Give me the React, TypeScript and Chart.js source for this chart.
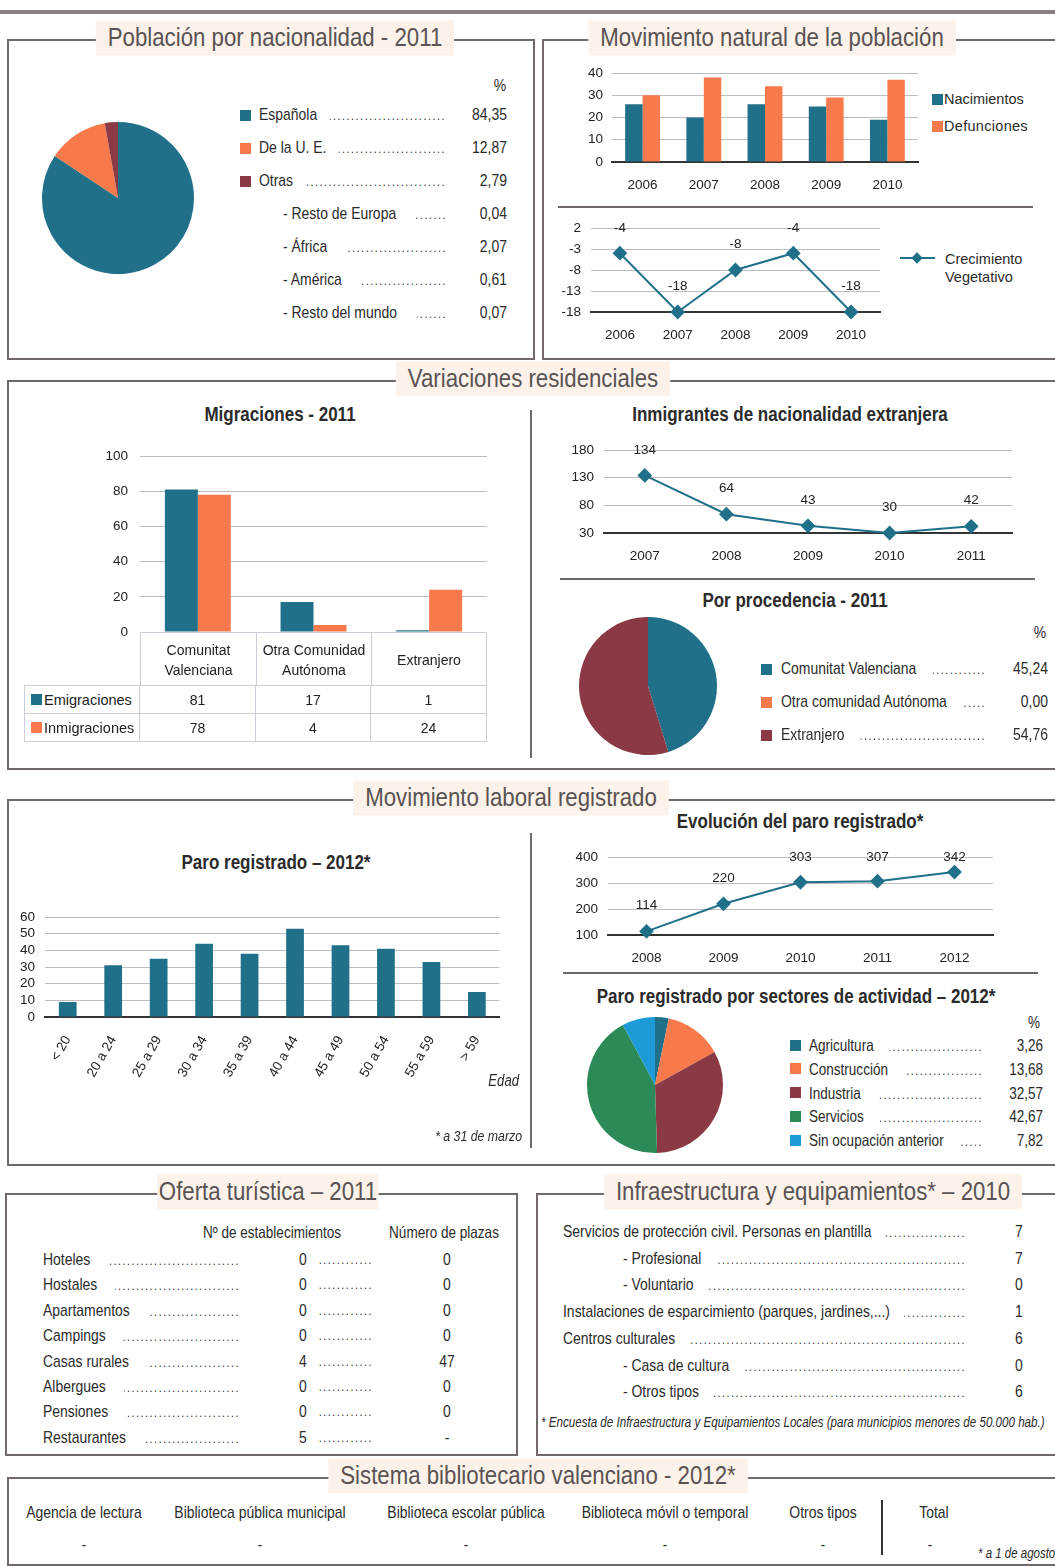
import React, { useEffect, useRef } from 'react';
import { Chart, registerables } from 'chart.js';
Chart.register(...registerables);

// ---------------- DATA ----------------
const nacLabels = ['Española', 'De la U. E.', 'Otras'];
const nacValues = [84.35, 12.87, 2.79];
const otrasLabels = ['- Resto de Europa', '- África', '- América', '- Resto del mundo'];
const otrasValues = [0.04, 2.07, 0.61, 0.07];

const movYears = ['2006', '2007', '2008', '2009', '2010'];
const nacimientos = [26, 20, 26, 25, 19];
const defunciones = [30, 38, 34, 29, 37];
const crecimiento = [-4, -18, -8, -4, -18];

const migCats = [['Comunitat', 'Valenciana'], ['Otra Comunidad', 'Autónoma'], ['Extranjero']];
const emigraciones = [81, 17, 1];
const inmigraciones = [78, 4, 24];

const inmYears = ['2007', '2008', '2009', '2010', '2011'];
const inmValues = [134, 64, 43, 30, 42];

const procLabels = ['Comunitat Valenciana', 'Otra comunidad Autónoma', 'Extranjero'];
const procValues = [45.24, 0.0, 54.76];

const edadLabels = ['< 20', '20 a 24', '25 a 29', '30 a 34', '35 a 39', '40 a 44', '45 a 49', '50 a 54', '55 a 59', '> 59'];
const paroEdad = [9, 31, 35, 44, 38, 53, 43, 41, 33, 15];

const paroYears = ['2008', '2009', '2010', '2011', '2012'];
const paroValues = [114, 220, 303, 307, 342];

const sectorLabels = ['Agricultura', 'Construcción', 'Industria', 'Servicios', 'Sin ocupación anterior'];
const sectorValues = [3.26, 13.68, 32.57, 42.67, 7.82];

const turLabels = ['Hoteles', 'Hostales', 'Apartamentos', 'Campings', 'Casas rurales', 'Albergues', 'Pensiones', 'Restaurantes'];
const turEstab = ['0', '0', '0', '0', '4', '0', '0', '5'];
const turPlazas = ['0', '0', '0', '0', '47', '0', '0', '-'];

const infraLabels = [
  'Servicios de protección civil. Personas en plantilla',
  '- Profesional',
  '- Voluntario',
  'Instalaciones de esparcimiento (parques, jardines,...)',
  'Centros culturales',
  '- Casa de cultura',
  '- Otros tipos',
];
const infraValues = ['7', '7', '0', '1', '6', '0', '6'];

const biblioLabels = ['Agencia de lectura', 'Biblioteca pública municipal', 'Biblioteca escolar pública', 'Biblioteca móvil o temporal', 'Otros tipos'];
const biblioValues = ['-', '-', '-', '-', '-'];
const biblioTotal = '-';

// ---------------- STYLE ----------------
const SANS = '"Liberation Sans", Arial, sans-serif';
const NK = 0.82; // narrow factor
const TEAL = '#20708A';
const ORANGE = '#F87A4C';
const MAROON = '#8B3A45';
const GREEN = '#2C8A58';
const CYAN = '#1C9BD7';
const FRAME = '#716868';
const TITLE_BG = '#FCF2E9';
const TXT = '#2b2b2b';
const GRID = '#bcbcc4';
const TFS = 13.5; // chart tick font size

const fmt = (v: number) => v.toFixed(2).replace('.', ',');

Chart.defaults.font.family = SANS;
Chart.defaults.color = '#222';

const pointLabels = {
  id: 'pointLabels',
  afterDatasetsDraw(chart: any, _args: any, opts: any) {
    if (!opts || !opts.display) return;
    const ctx = chart.ctx;
    const meta = chart.getDatasetMeta(0);
    const data = chart.data.datasets[0].data;
    ctx.save();
    ctx.font = `${TFS}px ${SANS}`;
    ctx.fillStyle = '#222';
    ctx.textAlign = 'center';
    ctx.textBaseline = 'middle';
    meta.data.forEach((pt: any, i: number) => {
      const y = Math.max(pt.y - opts.offset, chart.chartArea.top);
      ctx.fillText(String(data[i]), pt.x, y);
    });
    ctx.restore();
  },
};

// compute canvas geometry so that the plot area lands on the wanted rectangle
function geom(x1: number, y1: number, x2: number, y2: number, yW: number, pad: number, xH: number | null) {
  const lab = (TFS * 1.2) / 2 + pad;
  const top = Math.floor(y1 - lab);
  const padTop = y1 - top;
  const left = x1 - yW;
  const width = x2 - left + 2;
  const padBottom = xH == null ? Math.ceil(lab) : 0;
  const height = y2 - top + (xH == null ? padBottom : xH);
  return { left, top, width, height, padding: { top: padTop, right: 2, left: 0, bottom: padBottom } };
}

function ChartBox({ g, make }: any) {
  const ref = useRef<HTMLCanvasElement>(null);
  useEffect(() => {
    const cfg = make();
    cfg.options = {
      responsive: false,
      maintainAspectRatio: false,
      animation: false,
      devicePixelRatio: 1,
      ...cfg.options,
      layout: { padding: g.padding },
      plugins: { legend: { display: false }, tooltip: { enabled: false }, ...(cfg.options.plugins || {}) },
    };
    const chart = new Chart(ref.current as HTMLCanvasElement, cfg);
    return () => chart.destroy();
  }, []);
  return <canvas ref={ref} width={g.width} height={g.height} style={{ position: 'absolute', left: g.left, top: g.top, width: g.width, height: g.height }} />;
}

function T({ x, y, s = 17, a = 'left', b = false, i = false, c = TXT, k = NK, children, style }: any) {
  const tx = a === 'center' ? '-50%' : a === 'right' ? '-100%' : '0';
  const org = a === 'center' ? 'center' : a === 'right' ? 'right' : 'left';
  return (
    <div
      style={{
        position: 'absolute', left: x, top: y, transform: `translate(${tx}, -50%) scaleX(${k})`, transformOrigin: `${org} center`,
        fontSize: s, fontWeight: b ? 700 : 400, fontStyle: i ? 'italic' : 'normal', color: c, fontFamily: SANS,
        whiteSpace: 'nowrap', lineHeight: 1.15, ...style,
      }}
    >
      {children}
    </div>
  );
}

function Leader({ x, xEnd, y, s = 17, label, gap = 12 }: any) {
  return (
    <div
      style={{
        position: 'absolute', left: x, width: (xEnd - x) / NK, top: y, transform: `translateY(-50%) scaleX(${NK})`, transformOrigin: 'left center',
        display: 'flex', alignItems: 'baseline', fontFamily: SANS, fontSize: s, color: TXT, whiteSpace: 'nowrap', lineHeight: 1.15,
      }}
    >
      <span>{label}</span>
      <span style={{ flex: 1, marginLeft: gap / NK, overflow: 'hidden', display: 'flex', justifyContent: 'flex-end', fontSize: 13, letterSpacing: 1.9 }}>
        {'.'.repeat(220)}
      </span>
    </div>
  );
}

function Sq({ x, y, c, s = 11 }: any) {
  return <div style={{ position: 'absolute', left: x, top: y - s / 2, width: s, height: s, background: c }} />;
}

function HLine({ x1, x2, y, w = 2, c = FRAME }: any) {
  return <div style={{ position: 'absolute', left: x1, top: y - w / 2, width: x2 - x1, height: w, background: c }} />;
}
function VLine({ x, y1, y2, w = 2, c = FRAME }: any) {
  return <div style={{ position: 'absolute', left: x - w / 2, top: y1, width: w, height: y2 - y1, background: c }} />;
}

function Frame({ left, top, right, bottom, title, tx, s = 26, pad = 14 }: any) {
  return (
    <>
      <div style={{ position: 'absolute', left: left - 1, top: top - 1, width: right - left, height: bottom - top, border: `2px solid ${FRAME}` }} />
      <div
        style={{
          position: 'absolute', left: tx, top: top - 2, transform: 'translate(-50%, -50%) scaleX(0.855)', background: TITLE_BG,
          padding: `2px ${pad}px`, fontFamily: SANS, fontSize: s, color: '#595354', whiteSpace: 'nowrap', lineHeight: 1.2,
        }}
      >
        {title}
      </div>
    </>
  );
}

const tick = () => ({ font: { family: SANS, size: TFS }, color: '#222' });

function lineConfig(labels: string[], values: number[], min: number, max: number, step: number, yW: number, xH: number) {
  return () => ({
    type: 'line',
    data: {
      labels,
      datasets: [{
        data: values, borderColor: TEAL, backgroundColor: TEAL, borderWidth: 2, pointStyle: 'rectRot',
        pointRadius: 6, pointBackgroundColor: TEAL, pointBorderColor: TEAL, tension: 0, clip: false,
      }],
    },
    plugins: [pointLabels],
    options: {
      plugins: { pointLabels: { display: true, offset: 26 } },
      scales: {
        x: {
          offset: true, grid: { display: false, drawTicks: false }, border: { color: '#333', width: 2 },
          ticks: { ...tick(), padding: 15 }, afterFit: (s: any) => { s.height = xH; },
        },
        y: {
          min, max, grid: { color: GRID, drawTicks: false }, border: { display: false },
          ticks: { ...tick(), stepSize: step, padding: 10, autoSkip: false }, afterFit: (s: any) => { s.width = yW; },
        },
      },
    },
  });
}

function pieConfig(values: number[], colors: string[]) {
  return () => ({
    type: 'pie',
    data: { datasets: [{ data: values, backgroundColor: colors, borderWidth: 0 }] },
    options: {},
  });
}
const pieGeom = (cx: number, cy: number, r: number) => ({
  left: cx - r - 2, top: cy - r - 2, width: 2 * r + 4, height: 2 * r + 4, padding: 2,
});

const gNat = geom(612, 73, 918, 162, 44, 9, 36);
const gCrec = geom(591, 228, 886, 312, 45, 10, 36);
const gMig = geom(140, 456, 487, 632, 52, 12, null);
const gInm = geom(604, 450, 1018, 533, 46, 10, 37);
const gParo = geom(45, 917, 505, 1017, 37, 10, 72);
const gEvo = geom(608, 857, 999, 935, 50, 10, 37);

export default function App() {
  useEffect(() => {
    document.body.style.margin = '0';
  }, []);

  const nacColors = [TEAL, ORANGE, MAROON];
  const procColors = [TEAL, ORANGE, MAROON];
  const sectorColors = [TEAL, ORANGE, MAROON, GREEN, CYAN];

  const tblX = [24, 140, 256, 371, 487];
  const cellFont = { fontFamily: SANS, fontSize: 14, color: '#222' };

  return (
    <div style={{ position: 'absolute', left: 0, top: 0, width: 1055, height: 1566, overflow: 'hidden', background: '#fff', fontFamily: SANS, color: TXT }}>
      <HLine x1={0} x2={1055} y={12} w={4} c="#8a8082" />

      {/* ---------- A: Población por nacionalidad ---------- */}
      <Frame left={8} top={40} right={532} bottom={357} title="Población por nacionalidad - 2011" tx={275} />
      <ChartBox g={pieGeom(118, 198, 76)} make={pieConfig(nacValues, nacColors)} />
      <T x={500} y={86} a="center">%</T>
      {nacLabels.map((l, i) => (
        <React.Fragment key={l}>
          <Sq x={240} y={115 + i * 33} c={nacColors[i]} />
          <Leader x={259} xEnd={446} y={115 + i * 33} label={l} />
          <T x={507} y={115 + i * 33} a="right">{fmt(nacValues[i])}</T>
        </React.Fragment>
      ))}
      {otrasLabels.map((l, i) => (
        <React.Fragment key={l}>
          <Leader x={283} xEnd={447} y={214 + i * 33} label={l} gap={20} />
          <T x={507} y={214 + i * 33} a="right">{fmt(otrasValues[i])}</T>
        </React.Fragment>
      ))}

      {/* ---------- B: Movimiento natural ---------- */}
      <Frame left={543} top={40} right={1070} bottom={357} title="Movimiento natural de la población" tx={772} />
      <ChartBox
        g={gNat}
        make={() => ({
          type: 'bar',
          data: {
            labels: movYears,
            datasets: [
              { data: nacimientos, backgroundColor: TEAL, categoryPercentage: 0.57, barPercentage: 1 },
              { data: defunciones, backgroundColor: ORANGE, categoryPercentage: 0.57, barPercentage: 1 },
            ],
          },
          options: {
            scales: {
              x: { grid: { display: false, drawTicks: false }, border: { color: '#333', width: 2 }, ticks: { ...tick(), padding: 15 }, afterFit: (s: any) => { s.height = 36; } },
              y: { min: 0, max: 40, grid: { color: GRID, drawTicks: false }, border: { display: false }, ticks: { ...tick(), stepSize: 10, padding: 9, autoSkip: false }, afterFit: (s: any) => { s.width = 44; } },
            },
          },
        })}
      />
      <Sq x={932} y={99} c={TEAL} />
      <T x={944} y={99} s={14.5} k={1}>Nacimientos</T>
      <Sq x={932} y={126} c={ORANGE} />
      <T x={944} y={126} s={14.5} k={1} style={{ letterSpacing: 0.3 }}>Defunciones</T>
      <HLine x1={558} x2={1033} y={207} />
      <ChartBox g={gCrec} make={lineConfig(movYears, crecimiento, -18, 2, 5, 45, 36)} />
      <HLine x1={900} x2={935} y={258} w={2} c={TEAL} />
      <div style={{ position: 'absolute', left: 913, top: 254, width: 8, height: 8, background: TEAL, transform: 'rotate(45deg)' }} />
      <T x={945} y={259} s={14.5} k={1}>Crecimiento</T>
      <T x={945} y={277} s={14.5} k={1}>Vegetativo</T>

      {/* ---------- C: Variaciones residenciales ---------- */}
      <Frame left={8} top={381} right={1070} bottom={767} title="Variaciones residenciales" tx={533} />
      <VLine x={531} y1={410} y2={758} />
      <T x={280} y={414} a="center" s={20} b k={0.85}>Migraciones - 2011</T>
      <ChartBox
        g={gMig}
        make={() => ({
          type: 'bar',
          data: {
            labels: migCats.map((c) => c.join(' ')),
            datasets: [
              { data: emigraciones, backgroundColor: TEAL, categoryPercentage: 0.57, barPercentage: 1 },
              { data: inmigraciones, backgroundColor: ORANGE, categoryPercentage: 0.57, barPercentage: 1 },
            ],
          },
          options: {
            scales: {
              x: { display: false },
              y: { min: 0, max: 100, grid: { color: GRID, drawTicks: false }, border: { display: false }, ticks: { ...tick(), stepSize: 20, padding: 12, autoSkip: false }, afterFit: (s: any) => { s.width = 52; } },
            },
          },
        })}
      />
      {migCats.map((c, i) => (
        <div key={'h' + i} style={{ position: 'absolute', left: tblX[i + 1], top: 632, width: tblX[i + 2] - tblX[i + 1], height: 54, borderLeft: '1px solid #c9ced8', borderRight: i === 2 ? '1px solid #c9ced8' : 'none', borderTop: '1px solid #c9ced8', boxSizing: 'border-box', display: 'flex', flexDirection: 'column', justifyContent: 'center', alignItems: 'center', lineHeight: '20px', ...cellFont }}>
          {c.map((t) => <div key={t}>{t}</div>)}
        </div>
      ))}
      {[['Emigraciones', emigraciones, TEAL], ['Inmigraciones', inmigraciones, ORANGE]].map((r: any, ri) => (
        <React.Fragment key={r[0]}>
          <div style={{ position: 'absolute', left: tblX[0], top: 685 + ri * 28, width: tblX[1] - tblX[0], height: 29, border: '1px solid #c9ced8', boxSizing: 'border-box', display: 'flex', alignItems: 'center', ...cellFont, fontSize: 14.5 }}>
            <div style={{ width: 11, height: 11, background: r[2], marginLeft: 6, marginRight: 2 }} />
            {r[0]}
          </div>
          {r[1].map((v: number, i: number) => (
            <div key={i} style={{ position: 'absolute', left: tblX[i + 1] - 1, top: 685 + ri * 28, width: tblX[i + 2] - tblX[i + 1] + 1, height: 29, border: '1px solid #c9ced8', boxSizing: 'border-box', display: 'flex', alignItems: 'center', justifyContent: 'center', ...cellFont }}>
              {v}
            </div>
          ))}
        </React.Fragment>
      ))}

      <T x={790} y={414} a="center" s={20} b k={0.85}>Inmigrantes de nacionalidad extranjera</T>
      <ChartBox g={gInm} make={lineConfig(inmYears, inmValues, 30, 180, 50, 46, 37)} />
      <HLine x1={560} x2={1035} y={579} />
      <T x={795} y={600} a="center" s={20} b k={0.85}>Por procedencia - 2011</T>
      <ChartBox g={pieGeom(648, 686, 69)} make={pieConfig(procValues, procColors)} />
      <T x={1040} y={633} a="center">%</T>
      {procLabels.map((l, i) => (
        <React.Fragment key={l}>
          <Sq x={761} y={669 + i * 33} c={procColors[i]} />
          <Leader x={781} xEnd={986} y={669 + i * 33} label={l} gap={16} />
          <T x={1048} y={669 + i * 33} a="right">{fmt(procValues[i])}</T>
        </React.Fragment>
      ))}

      {/* ---------- D: Movimiento laboral ---------- */}
      <Frame left={8} top={800} right={1070} bottom={1163} title="Movimiento laboral registrado" tx={511} />
      <VLine x={531} y1={833} y2={1148} />
      <T x={276} y={862} a="center" s={20} b k={0.85}>Paro registrado – 2012*</T>
      <ChartBox
        g={gParo}
        make={() => ({
          type: 'bar',
          data: { labels: edadLabels, datasets: [{ data: paroEdad, backgroundColor: TEAL, categoryPercentage: 1, barPercentage: 0.39 }] },
          options: {
            scales: {
              x: { grid: { display: false, drawTicks: false }, border: { color: '#333', width: 2 }, ticks: { ...tick(), padding: 16, minRotation: 60, maxRotation: 60, autoSkip: false }, afterFit: (s: any) => { s.height = 72; } },
              y: { min: 0, max: 60, grid: { color: GRID, drawTicks: false }, border: { display: false }, ticks: { ...tick(), stepSize: 10, padding: 10, autoSkip: false }, afterFit: (s: any) => { s.width = 37; } },
            },
          },
        })}
      />
      <T x={519} y={1081} a="right" s={16} i>Edad</T>
      <T x={522} y={1136} a="right" s={15} i>* a 31 de marzo</T>

      <T x={800} y={821} a="center" s={20} b k={0.85}>Evolución del paro registrado*</T>
      <ChartBox g={gEvo} make={lineConfig(paroYears, paroValues, 100, 400, 100, 50, 37)} />
      <HLine x1={563} x2={1038} y={973} />
      <T x={796} y={996} a="center" s={20} b k={0.85}>Paro registrado por sectores de actividad – 2012*</T>
      <ChartBox g={pieGeom(655, 1085, 68)} make={pieConfig(sectorValues, sectorColors)} />
      <T x={1034} y={1022} a="center" s={16.5}>%</T>
      {sectorLabels.map((l, i) => (
        <React.Fragment key={l}>
          <Sq x={790} y={1045 + i * 23.8} c={sectorColors[i]} />
          <Leader x={809} xEnd={983} y={1045 + i * 23.8} label={l} s={16.5} gap={16} />
          <T x={1043} y={1045 + i * 23.8} a="right" s={16.5}>{fmt(sectorValues[i])}</T>
        </React.Fragment>
      ))}

      {/* ---------- E: Oferta turística ---------- */}
      <Frame left={6} top={1194} right={515} bottom={1453} title="Oferta turística – 2011" tx={268} pad={2} />
      <T x={272} y={1232} a="center" s={16.5}>Nº de establecimientos</T>
      <T x={444} y={1232} a="center" s={16.5}>Número de plazas</T>
      {turLabels.map((l, i) => (
        <React.Fragment key={l}>
          <Leader x={43} xEnd={240} y={1260 + i * 25.4} label={l} gap={18} />
          <T x={303} y={1260 + i * 25.4} a="center">{turEstab[i]}</T>
          <Leader x={318} xEnd={373} y={1260 + i * 25.4} label="" gap={0} />
          <T x={447} y={1260 + i * 25.4} a="center">{turPlazas[i]}</T>
        </React.Fragment>
      ))}

      {/* ---------- F: Infraestructura ---------- */}
      <Frame left={537} top={1194} right={1070} bottom={1453} title="Infraestructura y equipamientos* – 2010" tx={813} />
      {infraLabels.map((l, i) => (
        <React.Fragment key={l}>
          <Leader x={l.startsWith('-') ? 623 : 563} xEnd={966} y={1232 + i * 26.7} label={l} gap={14} />
          <T x={1019} y={1232 + i * 26.7} a="center">{infraValues[i]}</T>
        </React.Fragment>
      ))}
      <T x={541} y={1422} s={14.5} i k={0.8}>* Encuesta de Infraestructura y Equipamientos Locales (para municipios menores de 50.000 hab.)</T>

      {/* ---------- G: Sistema bibliotecario ---------- */}
      <Frame left={8} top={1478} right={1070} bottom={1563} title="Sistema bibliotecario valenciano - 2012*" tx={538} />
      {biblioLabels.map((l, i) => {
        const cx = [84, 260, 466, 665, 823][i];
        return (
          <React.Fragment key={l}>
            <T x={cx} y={1513} a="center" s={17}>{l}</T>
            <T x={cx} y={1545} a="center" s={16}>{biblioValues[i]}</T>
          </React.Fragment>
        );
      })}
      <VLine x={882} y1={1500} y2={1555} w={1.5} c="#333" />
      <T x={934} y={1513} a="center" s={17}>Total</T>
      <T x={930} y={1545} a="center" s={16}>{biblioTotal}</T>
      <T x={978} y={1553} s={14} i>* a 1 de agosto</T>
    </div>
  );
}
